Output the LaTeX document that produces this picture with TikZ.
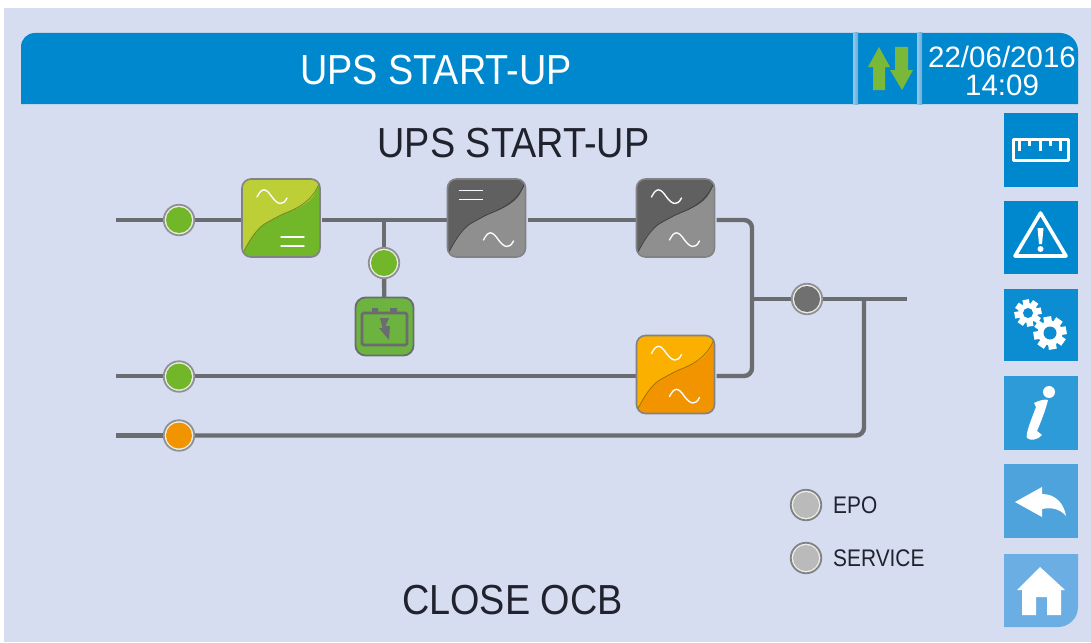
\documentclass[tikz,border=0pt]{standalone}
\usepackage{fontspec}
\setmainfont{Liberation Sans}
\newfontfamily\condf[FakeStretch=0.9]{Liberation Sans}
\newfontfamily\smallf[FakeStretch=0.87]{Liberation Sans}
\usetikzlibrary{calc}
\pgfdeclarelayer{base}\pgfdeclarelayer{wires}\pgfsetlayers{base,wires,main}
\definecolor{bgc}{HTML}{D6DDF0}
\definecolor{wire}{HTML}{6B6C70}
\definecolor{head}{HTML}{0088CF}
\definecolor{sep}{HTML}{9CC6E6}
\definecolor{grn}{HTML}{72B62A}
\definecolor{batg}{HTML}{6DB33F}
\definecolor{lime}{HTML}{BCCF36}
\definecolor{dgrey}{HTML}{606060}
\definecolor{mgrey}{HTML}{8F8F8F}
\definecolor{org}{HTML}{FBB000}
\definecolor{dorg}{HTML}{F29400}
\definecolor{arrowg}{HTML}{7AB83A}
\definecolor{txt}{HTML}{20232E}
\definecolor{ringl}{HTML}{ECEEE6}
\definecolor{b3}{HTML}{0C8DD2}
\definecolor{b4}{HTML}{2D9BD8}
\definecolor{b5}{HTML}{4FA3DD}
\definecolor{b6}{HTML}{6BAEE3}
\tikzset{
 x=1pt,y=-1pt,
 wireline/.style={draw=wire,line width=4.4pt,rounded corners=8pt},
 convbox/.style={draw=wire!85,line width=1.6pt,rounded corners=9pt,minimum size=78pt,inner sep=0pt,outer sep=0pt},
 led/.style 2 args={circle,draw=#1,fill=ringl,line width=1.8pt,minimum size=30.5pt,inner sep=0pt,outer sep=0pt,
   path picture={\fill[#2] (path picture bounding box.center) circle (13pt);}},
 sym/.style={draw=white!85!bgc,line width=1.4pt,line cap=round},
 ico/.style={fill=white,draw=none},
 icol/.style={draw=white,line join=round},
 bigtxt/.style={text=txt,font=\condf\fontsize{42}{42}\selectfont,inner sep=0pt},
 smalltxt/.style={text=txt,font=\smallf\fontsize{24}{24}\selectfont,inner sep=0pt,anchor=west},
 datetxt/.style={text=white,font=\fontsize{29.5}{30}\selectfont,inner sep=0pt}
}
\newcommand{\tilsym}[2]{\draw[sym] (#1-15,#2) .. controls (#1-10,#2-10) and (#1-6,#2-9) .. (#1,#2) .. controls (#1+6,#2+8) and (#1+11,#2+9) .. (#1+15,#2+1);}
\newcommand{\eqsym}[2]{\draw[sym] (#1-11.5,#2-4.5) -- (#1+11.5,#2-4.5) (#1-11.5,#2+4.5) -- (#1+11.5,#2+4.5);}
\newcommand{\convnode}[6]{%
 \node[convbox,fill=#4,path picture={
  \fill[#5] (-38,35) .. controls (-28,15) and (-20,8) .. (-8,1) .. controls (8,-7) and (29,-12) .. (38,-34) -- (45,-45) -- (45,45) -- (-45,45) -- cycle;
  \draw[#4!65!black,line width=.8pt] (-38,35) .. controls (-28,15) and (-20,8) .. (-8,1) .. controls (8,-7) and (29,-12) .. (38,-34);
 }] (#1) at (#2,#3) {};
 \begin{scope}[shift={(#1.center)}]#6\end{scope}}
\begin{document}
\begin{tikzpicture}
\useasboundingbox (0,0) rectangle (1091,642);
\begin{pgfonlayer}{base}
\fill[white] (0,0) rectangle (1091,642);
\fill[bgc] (4,8) rectangle (1091,642);
\end{pgfonlayer}
% header
\fill[head] (21,104) -- (21,47) .. controls (21,39) and (27,33) .. (35,33) -- (1060,33) .. controls (1070,33) and (1078,41) .. (1078,51) -- (1078,104) -- cycle;
\shade[left color=sep,right color=sep!60!head] (853,33) rectangle (858,104);
\shade[left color=sep,right color=sep!60!head] (917,33) rectangle (922,104);
\node[bigtxt,text=white] (title) at (436,70) {UPS START-UP};
\node[datetxt] (date) at (1002,57) {22/06/2016};
\node[datetxt] (time) at (1002,85) {14:09};
\fill[arrowg] (879,47) -- (890,67) -- (885,67) -- (885,90) -- (873,90) -- (873,67) -- (868,67) -- cycle;
\fill[arrowg] (902,90) -- (913,70) -- (908,70) -- (908,47) -- (895,47) -- (895,70) -- (890,70) -- cycle;
% buttons
\fill[head] (1004,113) rectangle (1078,187);
\fill[head] (1004,201) rectangle (1078,274);
\fill[b3] (1004,289) rectangle (1078,361);
\fill[b4] (1004,376) rectangle (1078,450);
\fill[b5] (1004,464) rectangle (1078,538);
\fill[b6] (1004,554) -- (1078,554) -- (1078,607) .. controls (1078,618) and (1069,627) .. (1058,627) -- (1004,627) -- cycle;
% ruler
\draw[icol,line width=3.4pt] (1013.7,139.7) rectangle (1068.3,160.3);
\draw[icol,line width=3pt] (1019,139) -- (1019,151) (1029,139) -- (1029,146) (1040,139) -- (1040,151) (1050,139) -- (1050,146) (1060,139) -- (1060,151);
% warning
\draw[icol,line width=3.6pt] (1040.5,213) -- (1066,256) -- (1015,256) -- cycle;
\fill[ico] (1037.5,228) -- (1043.5,228) -- (1042,244) -- (1039,244) -- cycle;
\fill[ico] (1040.5,249) circle (3);
% gears
\foreach \cx/\cy/\ro/\ri/\rh/\n in {1028/313/13.5/10/5/8,1050/333/16.5/12.5/6.5/8}{
 \fill[ico] (\cx,\cy) circle (\ri);
 \foreach \k in {1,...,\n}{
  \fill[ico,rotate around={\k*360/\n+10:(\cx,\cy)}] (\cx-\ro*0.24,\cy-\ri+1) rectangle (\cx+\ro*0.24,\cy-\ro);
 }
 \fill[b3] (\cx,\cy) circle (\rh);
}
% info
\fill[ico] (1049,392) circle (6);
\fill[ico] (1034,403) .. controls (1040,400) and (1045,399) .. (1048,400) .. controls (1045,412) and (1040,424) .. (1037,431) -- (1042,435) .. controls (1038,440) and (1030,441) .. (1027,438) .. controls (1025,434) and (1032,418) .. (1036,407) -- cycle;
% back
\fill[ico] (1015,502) -- (1042,487) -- (1042,494) .. controls (1056,494) and (1064,504) .. (1066,516) .. controls (1060,509) and (1052,507) .. (1042,509) -- (1042,517) -- cycle;
% home
\fill[ico] (1040,567) -- (1065,590) -- (1061,590) -- (1061,615) -- (1047,615) -- (1047,597) -- (1036,597) -- (1036,615) -- (1022,615) -- (1022,590) -- (1017,590) -- cycle;
% texts
\node[bigtxt] (sub) at (513.5,143) {UPS START-UP};
\node[bigtxt] (close) at (512.5,600) {CLOSE OCB};
\node[smalltxt] (epo) at (833,505) {EPO};
\node[smalltxt] (svc) at (833,558) {SERVICE};
% nodes
\convnode{cA}{281}{218}{lime}{grn}{\tilsym{-9}{-21}\eqsym{11.5}{23.5}}
\convnode{cB}{486.5}{218}{dgrey}{mgrey}{\eqsym{-15.5}{-23}\tilsym{12}{22}}
\convnode{cC}{675.5}{218}{dgrey}{mgrey}{\tilsym{-9}{-21}\tilsym{9}{22}}
\convnode{cD}{675.5}{374.5}{org}{dorg}{\tilsym{-9}{-21}\tilsym{9}{22}}
\node[fill=batg,draw=wire,line width=1.8pt,rounded corners=10pt,minimum size=58pt,inner sep=0pt,outer sep=0pt] (bat) at (384.5,326.5) {};
\draw[wire,line width=2.6pt,rounded corners=1.5pt] (362,313) rectangle (407,345);
\fill[wire] (372,308) rectangle (378,313) (390,308) rectangle (397,313);
\fill[wire] (380,318) -- (389,318) -- (385.5,326) -- (390,326) -- (389,340) -- (379,328) -- (382.5,328) -- cycle;
\coordinate (inA) at (116,220);
\coordinate (inB) at (116,376);
\coordinate (inC) at (116,435.5);
\coordinate (outE) at (907,299);
\coordinate (busT) at (752,299);
\coordinate (busM) at (864,299);
\coordinate (tap) at (384,220);
\node[led={wire!75}{grn}] (lA) at (179,220) {};
\node[led={wire!75}{grn}] (lB) at (384,263) {};
\node[led={wire!75}{grn}] (lC) at (179,376.5) {};
\node[led={wire!75}{dorg}] (lD) at (179,435.5) {};
\node[led={wire!75}{dgrey!90}] (lE) at (807,299) {};
\node[led={wire!85}{black!27}] (lF) at (806,505) {};
\node[led={wire!85}{black!27}] (lG) at (806,558) {};
% connectors
\begin{pgfonlayer}{wires}
\draw[wireline] (inA) -- (lA);
\draw[wireline] (lA) -- ([yshift=-2pt]cA.west);
\draw[wireline] ([xshift=2pt,yshift=-2pt]cA.east) -- ([yshift=-2pt]cB.west);
\draw[wireline] ([yshift=-2pt,xshift=2pt]cB.east) -- ([yshift=-2pt]cC.west);
\draw[wireline] (tap) -- (lB);
\draw[wireline] (lB) -- (bat);
\draw[wireline] (inB) -- ([yshift=-1.5pt]cD.west);
\draw[wireline] ([xshift=2pt,yshift=-2pt]cC.east) -- (752,220) -- (752,376) -- ([xshift=2pt,yshift=-1.5pt]cD.east);
\draw[wireline] (busT) -- (lE);
\draw[wireline] (lE) -- (outE);
\draw[wireline] (inC) -- (lD);
\draw[wireline] (lD) -- (864,435.5) -- (busM);
\end{pgfonlayer}
\end{tikzpicture}
\end{document}
